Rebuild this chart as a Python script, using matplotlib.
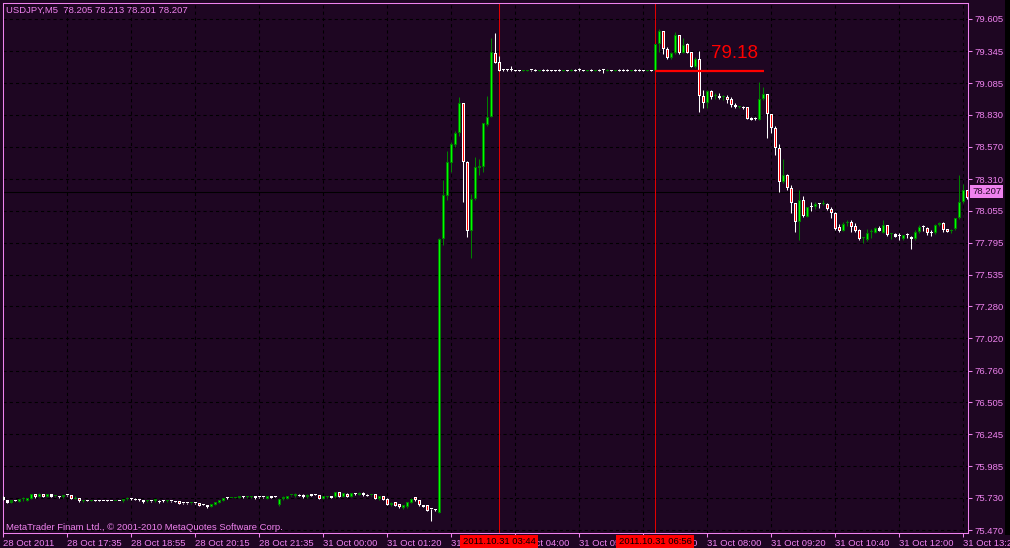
import matplotlib
matplotlib.use("Agg")
import matplotlib.pyplot as plt
import matplotlib.transforms as mtransforms
from matplotlib.patches import Rectangle
import numpy as np

plt.rcParams['font.family'] = ['Liberation Sans', 'DejaVu Sans']

title_text = "USDJPY,M5  78.205 78.213 78.201 78.207"
copyright_text = "MetaTrader Finam Ltd., \u00a9 2001-2010 MetaQuotes Software Corp."

# 5 minute bars, one per slot, left to right
opens = [
    75.735, 75.710, 75.692, 75.708, 75.697, 75.718, 75.708, 75.724, 75.759, 75.740,
    75.759, 75.737, 75.759, 75.742, 75.743, 75.735, 75.751, 75.751, 75.724, 75.729,
    75.702, 75.713, 75.707, 75.708, 75.707, 75.706, 75.705, 75.706, 75.704, 75.706,
    75.702, 75.719, 75.719, 75.724, 75.719, 75.713, 75.704, 75.706, 75.702, 75.708,
    75.704, 75.704, 75.706, 75.703, 75.702, 75.688, 75.687, 75.685, 75.687, 75.686,
    75.677, 75.670, 75.659, 75.675, 75.692, 75.708, 75.729, 75.728, 75.733, 75.732,
    75.743, 75.735, 75.735, 75.745, 75.735, 75.736, 75.724, 75.743, 75.741, 75.670,
    75.719, 75.724, 75.750, 75.743, 75.756, 75.756, 75.735, 75.759, 75.756, 75.751,
    75.724, 75.737, 75.745, 75.735, 75.778, 75.740, 75.764, 75.740, 75.759, 75.756,
    75.773, 75.756, 75.750, 75.762, 75.719, 75.745, 75.724, 75.670, 75.697, 75.681,
    75.648, 75.654, 75.692, 75.737, 75.710, 75.670, 75.670, 75.638, 75.632, 75.610,
    77.822, 78.175, 78.442, 78.585, 78.685, 78.923, 78.450, 77.892, 78.146, 78.400,
    78.410, 78.747, 78.815, 79.327, 79.255, 79.190, 79.190, 79.188, 79.190, 79.190,
    79.184, 79.184, 79.188, 79.190, 79.184, 79.190, 79.190, 79.192, 79.192, 79.190,
    79.183, 79.192, 79.187, 79.190, 79.188, 79.192, 79.183, 79.190, 79.184, 79.190,
    79.188, 79.187, 79.192, 79.183, 79.190, 79.190, 79.190, 79.184, 79.190, 79.190,
    79.192, 79.183, 79.192, 79.187, 79.403, 79.508, 79.360, 79.287, 79.330, 79.475,
    79.330, 79.400, 79.335, 79.214, 79.279, 78.984, 78.928, 79.022, 78.981, 78.982,
    78.971, 78.971, 78.955, 78.909, 78.895, 78.896, 78.890, 78.807, 78.793, 78.788,
    78.955, 78.998, 78.834, 78.720, 78.559, 78.284, 78.343, 78.235, 78.114, 77.965,
    78.140, 78.006, 78.081, 78.081, 78.108, 78.107, 78.108, 78.065, 78.038, 77.925,
    77.892, 77.952, 77.965, 77.930, 77.898, 77.829, 77.817, 77.881, 77.876, 77.911,
    77.876, 77.938, 77.862, 77.863, 77.849, 77.822, 77.854, 77.844, 77.822, 77.884,
    77.919, 77.911, 77.876, 77.871, 77.938, 77.952, 77.903, 77.889, 77.903, 77.992,
    78.127, 78.221,
]
highs = [
    75.745, 75.713, 75.713, 75.713, 75.722, 75.735, 75.732, 75.762, 75.762, 75.770,
    75.764, 75.762, 75.762, 75.748, 75.745, 75.753, 75.756, 75.753, 75.743, 75.732,
    75.716, 75.716, 75.710, 75.710, 75.713, 75.708, 75.710, 75.708, 75.708, 75.708,
    75.721, 75.735, 75.726, 75.727, 75.721, 75.716, 75.710, 75.708, 75.721, 75.710,
    75.710, 75.710, 75.708, 75.706, 75.705, 75.690, 75.692, 75.690, 75.690, 75.689,
    75.680, 75.673, 75.684, 75.700, 75.716, 75.732, 75.740, 75.733, 75.738, 75.745,
    75.745, 75.745, 75.746, 75.748, 75.740, 75.738, 75.748, 75.745, 75.743, 75.727,
    75.743, 75.748, 75.756, 75.767, 75.759, 75.759, 75.759, 75.762, 75.762, 75.754,
    75.748, 75.743, 75.748, 75.781, 75.781, 75.770, 75.767, 75.770, 75.767, 75.778,
    75.776, 75.759, 75.754, 75.765, 75.748, 75.748, 75.727, 75.695, 75.700, 75.684,
    75.673, 75.700, 75.727, 75.740, 75.713, 75.673, 75.673, 75.643, 75.640, 77.830,
    78.302, 78.539, 78.610, 78.700, 78.971, 78.925, 78.452, 78.190, 78.490, 78.470,
    78.762, 78.980, 79.449, 79.494, 79.306, 79.200, 79.200, 79.225, 79.192, 79.192,
    79.192, 79.192, 79.194, 79.198, 79.194, 79.196, 79.198, 79.194, 79.194, 79.196,
    79.194, 79.194, 79.196, 79.196, 79.205, 79.194, 79.194, 79.196, 79.194, 79.196,
    79.203, 79.198, 79.194, 79.194, 79.196, 79.196, 79.196, 79.194, 79.196, 79.196,
    79.194, 79.194, 79.194, 79.405, 79.524, 79.510, 79.380, 79.340, 79.497, 79.477,
    79.450, 79.410, 79.337, 79.296, 79.346, 79.030, 79.030, 79.030, 79.004, 79.009,
    78.990, 78.987, 78.971, 78.928, 78.900, 78.900, 78.893, 78.810, 78.810, 79.098,
    79.058, 79.000, 78.836, 78.740, 78.593, 78.470, 78.350, 78.262, 78.119, 78.221,
    78.173, 78.081, 78.127, 78.127, 78.119, 78.140, 78.119, 78.087, 78.046, 77.946,
    77.965, 77.979, 77.979, 77.957, 77.903, 77.844, 77.903, 77.903, 77.925, 77.930,
    77.979, 77.940, 77.876, 77.870, 77.871, 77.860, 77.871, 77.849, 77.898, 77.938,
    77.938, 77.925, 77.898, 77.946, 77.965, 77.965, 77.905, 77.903, 77.995, 78.343,
    78.270, 78.225,
]
lows = [
    75.710, 75.686, 75.690, 75.702, 75.695, 75.705, 75.705, 75.721, 75.732, 75.737,
    75.735, 75.735, 75.737, 75.740, 75.732, 75.732, 75.745, 75.721, 75.721, 75.700,
    75.700, 75.702, 75.705, 75.702, 75.702, 75.702, 75.702, 75.702, 75.702, 75.702,
    75.700, 75.716, 75.713, 75.710, 75.708, 75.686, 75.700, 75.700, 75.700, 75.692,
    75.700, 75.700, 75.700, 75.697, 75.678, 75.682, 75.682, 75.682, 75.682, 75.662,
    75.670, 75.650, 75.656, 75.673, 75.690, 75.705, 75.724, 75.726, 75.730, 75.730,
    75.732, 75.732, 75.732, 75.724, 75.730, 75.732, 75.721, 75.727, 75.735, 75.667,
    75.716, 75.721, 75.745, 75.740, 75.743, 75.732, 75.732, 75.743, 75.751, 75.721,
    75.721, 75.732, 75.727, 75.732, 75.737, 75.737, 75.735, 75.737, 75.754, 75.754,
    75.748, 75.743, 75.748, 75.721, 75.716, 75.710, 75.672, 75.667, 75.662, 75.651,
    75.640, 75.651, 75.690, 75.708, 75.667, 75.656, 75.624, 75.540, 75.624, 75.605,
    77.776, 78.140, 78.370, 78.570, 78.660, 78.127, 77.843, 77.670, 78.140, 78.340,
    78.370, 78.740, 78.812, 79.245, 79.185, 79.180, 79.182, 79.185, 79.184, 79.184,
    79.182, 79.182, 79.184, 79.184, 79.182, 79.184, 79.184, 79.181, 79.181, 79.184,
    79.181, 79.181, 79.180, 79.184, 79.184, 79.181, 79.181, 79.184, 79.182, 79.184,
    79.171, 79.180, 79.181, 79.181, 79.184, 79.184, 79.184, 79.182, 79.184, 79.184,
    79.181, 79.181, 79.181, 79.185, 79.340, 79.320, 79.280, 79.280, 79.322, 79.318,
    79.328, 79.328, 79.213, 79.205, 78.855, 78.882, 78.882, 78.960, 78.955, 78.960,
    78.950, 78.928, 78.890, 78.882, 78.888, 78.880, 78.796, 78.786, 78.788, 78.786,
    78.950, 78.640, 78.680, 78.505, 78.207, 78.275, 78.222, 78.033, 77.884, 77.817,
    78.006, 78.000, 78.054, 78.065, 78.073, 78.100, 78.060, 77.992, 77.898, 77.884,
    77.890, 77.930, 77.884, 77.884, 77.817, 77.795, 77.812, 77.830, 77.871, 77.890,
    77.871, 77.849, 77.822, 77.840, 77.817, 77.820, 77.830, 77.741, 77.817, 77.876,
    77.892, 77.857, 77.849, 77.865, 77.930, 77.884, 77.880, 77.871, 77.898, 77.985,
    78.119, 78.150,
]
closes = [
    75.715, 75.692, 75.710, 75.708, 75.719, 75.719, 75.729, 75.759, 75.737, 75.764,
    75.737, 75.759, 75.740, 75.743, 75.735, 75.751, 75.750, 75.724, 75.730, 75.702,
    75.708, 75.705, 75.708, 75.705, 75.707, 75.705, 75.705, 75.704, 75.706, 75.704,
    75.719, 75.720, 75.719, 75.713, 75.710, 75.697, 75.705, 75.703, 75.719, 75.697,
    75.704, 75.705, 75.703, 75.700, 75.681, 75.685, 75.685, 75.687, 75.685, 75.665,
    75.674, 75.654, 75.681, 75.697, 75.713, 75.729, 75.729, 75.730, 75.736, 75.743,
    75.735, 75.743, 75.743, 75.727, 75.735, 75.734, 75.745, 75.729, 75.738, 75.724,
    75.740, 75.745, 75.751, 75.764, 75.745, 75.735, 75.756, 75.745, 75.756, 75.724,
    75.745, 75.738, 75.729, 75.778, 75.740, 75.767, 75.737, 75.767, 75.759, 75.773,
    75.751, 75.745, 75.752, 75.724, 75.745, 75.713, 75.675, 75.692, 75.665, 75.654,
    75.670, 75.697, 75.724, 75.710, 75.670, 75.659, 75.627, 75.638, 75.632, 77.822,
    78.181, 78.450, 78.594, 78.680, 78.923, 78.450, 77.892, 78.146, 78.405, 78.415,
    78.760, 78.815, 79.335, 79.246, 79.187, 79.190, 79.190, 79.188, 79.186, 79.186,
    79.190, 79.190, 79.188, 79.186, 79.190, 79.186, 79.186, 79.183, 79.183, 79.186,
    79.192, 79.183, 79.188, 79.186, 79.188, 79.183, 79.192, 79.186, 79.190, 79.186,
    79.188, 79.188, 79.183, 79.192, 79.186, 79.186, 79.186, 79.190, 79.186, 79.186,
    79.183, 79.192, 79.183, 79.403, 79.508, 79.360, 79.287, 79.332, 79.475, 79.330,
    79.395, 79.333, 79.214, 79.279, 78.984, 78.928, 79.022, 78.976, 78.982, 78.963,
    78.972, 78.950, 78.909, 78.890, 78.896, 78.882, 78.799, 78.788, 78.793, 78.955,
    78.998, 78.834, 78.721, 78.559, 78.284, 78.343, 78.235, 78.114, 77.965, 78.140,
    78.011, 78.081, 78.081, 78.108, 78.108, 78.108, 78.065, 78.038, 77.903, 77.892,
    77.946, 77.965, 77.925, 77.892, 77.822, 77.830, 77.871, 77.882, 77.911, 77.892,
    77.938, 77.857, 77.863, 77.844, 77.849, 77.857, 77.854, 77.822, 77.884, 77.925,
    77.919, 77.871, 77.876, 77.938, 77.952, 77.898, 77.882, 77.890, 77.992, 78.127,
    78.221, 78.160,
]

bid_price = 78.207
bid_label = "78.207"

price_ticks = [79.605, 79.345, 79.085, 78.830, 78.570, 78.310, 78.055, 77.795,
               77.535, 77.280, 77.020, 76.760, 76.505, 76.245, 75.985, 75.730, 75.470]
price_labels = ["%.3f" % p for p in price_ticks]

time_tick_bars = list(range(0, 241, 16))
time_labels = ["28 Oct 2011", "28 Oct 17:35", "28 Oct 18:55", "28 Oct 20:15",
               "28 Oct 21:35", "31 Oct 00:00", "31 Oct 01:20", "31 Oct 02:40",
               "31 Oct 04:00", "31 Oct 05:20", "31 Oct 06:40", "31 Oct 08:00",
               "31 Oct 09:20", "31 Oct 10:40", "31 Oct 12:00", "31 Oct 13:20"]

# vertical lines (bar index) and their time labels
vline_bars = [124, 163]
vline_labels = ["2011.10.31 03:44", "2011.10.31 06:56"]

# horizontal level object
level_price = 79.18
level_bars = (163, 190.25)
level_text = "79.18"
level_text_pos = (183, 79.326)

bg = '#1e0622'
fg = '#ee82ee'
bull_fill, bull_edge = '#00ff00', '#008000'
bear_fill, bear_edge = '#ff0000', '#ffffff'
fs = 6.8

W, H = 1010, 548
fig = plt.figure(figsize=(W / 100, H / 100), dpi=100, facecolor=bg)
ax = fig.add_axes([3 / W, 15 / H, 965 / W, 530 / H], facecolor=bg)
ax.set_xlim(0, 241.25)
ax.set_ylim(75.446, 79.734)
px = (79.734 - 75.446) / 530   # price per pixel

for s in ax.spines.values():
    s.set_color(fg)
    s.set_linewidth(0.75)

ax.yaxis.tick_right()
ax.set_yticks(price_ticks, price_labels)
ax.set_xticks(time_tick_bars, time_labels)
ax.tick_params(colors=fg, labelsize=fs, length=3, width=0.75, direction='out')
ax.tick_params(axis='y', pad=2)
ax.tick_params(axis='x', pad=1.5)
for lbl in ax.get_xticklabels():
    lbl.set_horizontalalignment('left')

ax.grid(True, color='black', linestyle=(0, (3, 3)), linewidth=0.75, zorder=0)
ax.set_axisbelow(True)

# bid line
ax.axhline(bid_price, color='black', linewidth=0.75, zorder=1)

for b in vline_bars:
    ax.axvline(b, color='#e00000', linewidth=0.75, zorder=1.5)

# candles: outer box in the edge colour, 1px inner stripe in the fill colour
o = np.array(opens)
h = np.array(highs)
l = np.array(lows)
c = np.array(closes)
x = np.arange(len(c))
up = c > o
lo = np.minimum(o, c)
body = np.maximum(np.abs(c - o), px)

ax.vlines(x, l, h, colors=np.where(up, bull_edge, bear_edge), linewidth=0.75, zorder=3)
ax.bar(x, body, bottom=lo, width=0.75, color=np.where(up, bull_edge, bear_edge),
       linewidth=0, zorder=4)
inner = body > 2.5 * px
ax.bar(x[inner], body[inner] - 2 * px, bottom=lo[inner] + px, width=0.25,
       color=np.where(up[inner], bull_fill, bear_fill), linewidth=0, zorder=5)

# level line + label
ax.hlines(level_price, level_bars[0], level_bars[1], color='#ff0000', linewidth=1.6, zorder=6)
ax.text(level_text_pos[0], level_text_pos[1], level_text, color='#ff0000',
        fontsize=13.5, ha='center', va='center', zorder=7)

# texts on the chart
fig.text(6 / W, 1 - 10 / H, title_text, color=fg, fontsize=fs, va='center', ha='left')
fig.text(6 / W, 1 - 528 / H, copyright_text, color=fg, fontsize=fs, va='center', ha='left')

# bid label on the price scale
tr_y = mtransforms.blended_transform_factory(fig.transFigure, ax.transData)
ax.text(972 / W, bid_price, bid_label, transform=tr_y, color='#1e0622', fontsize=fs,
        ha='left', va='center', clip_on=False, zorder=10,
        bbox=dict(boxstyle='square,pad=0.2', fc=fg, ec='none'))

# red time labels at the bottom
tr_x = mtransforms.blended_transform_factory(ax.transData, fig.transFigure)
for b, t in zip(vline_bars, vline_labels):
    ax.text(b, 1 - 542 / H, t, transform=tr_x, color='black', fontsize=fs,
            ha='center', va='center', clip_on=False, zorder=10,
            bbox=dict(boxstyle='square,pad=0.25', fc='#ff0000', ec='none'))

fig.patches.append(Rectangle((1005 / W, 13 / H), 5 / W, 1, transform=fig.transFigure,
                             facecolor='black', edgecolor='none', zorder=-1))

fig.savefig('out.png', dpi=100, facecolor=bg)
